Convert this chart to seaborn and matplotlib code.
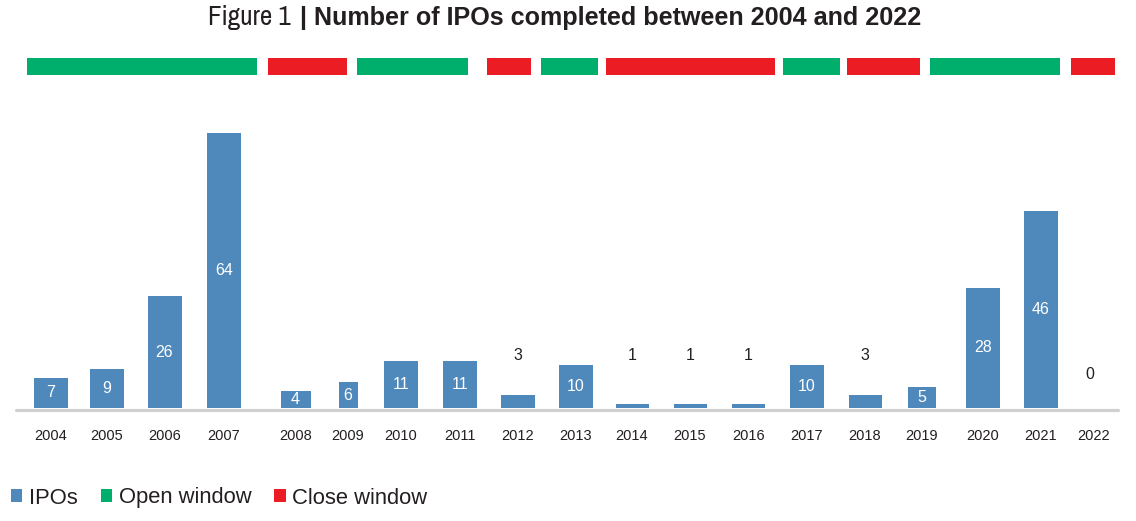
import numpy as np
import pandas as pd
import matplotlib
matplotlib.use("Agg")
import matplotlib.pyplot as plt
from matplotlib.patches import Patch
from matplotlib import font_manager
import seaborn as sns

# ---------------- data ----------------
years = [2004, 2005, 2006, 2007, 2008, 2009, 2010, 2011, 2012, 2013,
         2014, 2015, 2016, 2017, 2018, 2019, 2020, 2021, 2022]
ipos = [7, 9, 26, 64, 4, 6, 11, 11, 3, 10, 1, 1, 1, 10, 3, 5, 28, 46, 0]

window_state = ["Open", "Close", "Open", "Close", "Open",
                "Close", "Open", "Close", "Open", "Close"]
window_start = [2003.57, 2007.61, 2009.17, 2011.47, 2012.40,
                2013.54, 2016.59, 2017.69, 2019.13, 2021.57]
window_end = [2007.46, 2008.98, 2011.14, 2012.23, 2013.40,
              2016.45, 2017.57, 2018.96, 2021.36, 2022.41]

legend_labels = ["IPOs", "Open window", "Close window"]
title_prefix = "Figure 1"
title_main = "| Number of IPOs completed between 2004 and 2022"

# ---------------- layout / style ----------------
W, H = 1136, 521
x_pos = [51, 106.5, 164.5, 224, 295.5, 348, 401, 460, 518, 575.5,
         632, 690, 748.5, 807, 865, 922, 983, 1041, 1093.5]
bar_w = [34, 34, 34, 34, 30, 19, 34, 34, 34, 34,
         33, 33, 33, 34, 33, 28, 34, 34, 34]
BLUE = "#4F89BC"
GREEN = "#00AF6B"
RED = "#EC1C24"
GRAY = "#D0D0D0"
TXT = "#231F20"

sns.set_theme(style="white")
plt.rcParams["font.family"] = ["Liberation Sans", "DejaVu Sans"]

narrow = None
for f in font_manager.fontManager.ttflist:
    if "Narrow" in f.name or "Condensed" in f.name:
        narrow = f.name
        break

fig = plt.figure(figsize=(W / 100, H / 100), dpi=100)

baseline_px = 408
top_px = 40
px_per_unit = 4.29
ax = fig.add_axes([0, (H - baseline_px) / H, 1, (baseline_px - top_px) / H])

df = pd.DataFrame({"x": x_pos, "ipos": ipos})
sns.barplot(data=df, x="x", y="ipos", native_scale=True, color=BLUE,
            saturation=1, errorbar=None, width=0.6, ax=ax, zorder=3)
for p, cx, w in zip(ax.patches, x_pos, bar_w):
    p.set_x(cx - w / 2)
    p.set_width(w)
    p.set_edgecolor("none")

ax.set_xlim(0, W)
ax.set_ylim(0, (baseline_px - top_px) / px_per_unit)
for s in ax.spines.values():
    s.set_visible(False)
ax.set_yticks([])
ax.set_xlabel("")
ax.set_ylabel("")
ax.set_xticks(x_pos)
ax.set_xticklabels([str(y) for y in years], fontsize=10.5, color=TXT)
ax.tick_params(axis="x", length=0, pad=15)

# baseline
ax.axhline(-0.35, xmin=16 / W, xmax=1117.5 / W, color=GRAY, lw=2.3, zorder=2,
           clip_on=False)

# value labels
for cx, v in zip(x_pos, ipos):
    if v == 0:
        ax.text(cx - 4, 7.7, str(v), ha="center", va="center", fontsize=11.5, color=TXT)
    elif v < 4:
        ax.text(cx, 12.3, str(v), ha="center", va="center", fontsize=11.5, color=TXT)
    else:
        ax.text(cx, v / 2, str(v), ha="center", va="center", fontsize=11.5,
                color="white", zorder=4)

# window strip
axw = fig.add_axes([0, (H - 75) / H, 1, 17 / H])
axw.set_xlim(0, W)
axw.set_ylim(0, 1)
axw.axis("off")


def year_to_x(yr):
    if yr < years[0]:
        return x_pos[0] + (yr - years[0]) * (x_pos[1] - x_pos[0])
    if yr > years[-1]:
        return x_pos[-1] + (yr - years[-1]) * (x_pos[-1] - x_pos[-2])
    return float(np.interp(yr, years, x_pos))


for st, a, b in zip(window_state, window_start, window_end):
    xa, xb = year_to_x(a), year_to_x(b)
    axw.barh(0.5, xb - xa, left=xa, height=1.0,
             color=GREEN if st == "Open" else RED, edgecolor="none")

# title
ty = 1 - 18 / H
if narrow:
    fig.text(291 / W, ty, title_prefix, ha="right", va="center",
             fontsize=19.5, family=[narrow, "Liberation Sans"], color=TXT)
else:
    fig.text(291 / W, ty, title_prefix, ha="right", va="center",
             fontsize=14.5, color=TXT)
fig.text(300 / W, ty, title_main, ha="left", va="center",
         fontsize=18.1, fontweight="bold", color=TXT)

# legend
handles = [Patch(facecolor=BLUE, edgecolor="none"),
           Patch(facecolor=GREEN, edgecolor="none"),
           Patch(facecolor=RED, edgecolor="none")]
fig.legend(handles, legend_labels, loc="center left",
           bbox_to_anchor=(11 / W, 1 - 498 / H), ncol=3, frameon=False,
           fontsize=15.8, handlelength=0.52, handleheight=0.52,
           handletextpad=0.3, columnspacing=1.05, borderpad=0,
           borderaxespad=0, labelcolor=TXT)

fig.savefig("out.png", dpi=100)
